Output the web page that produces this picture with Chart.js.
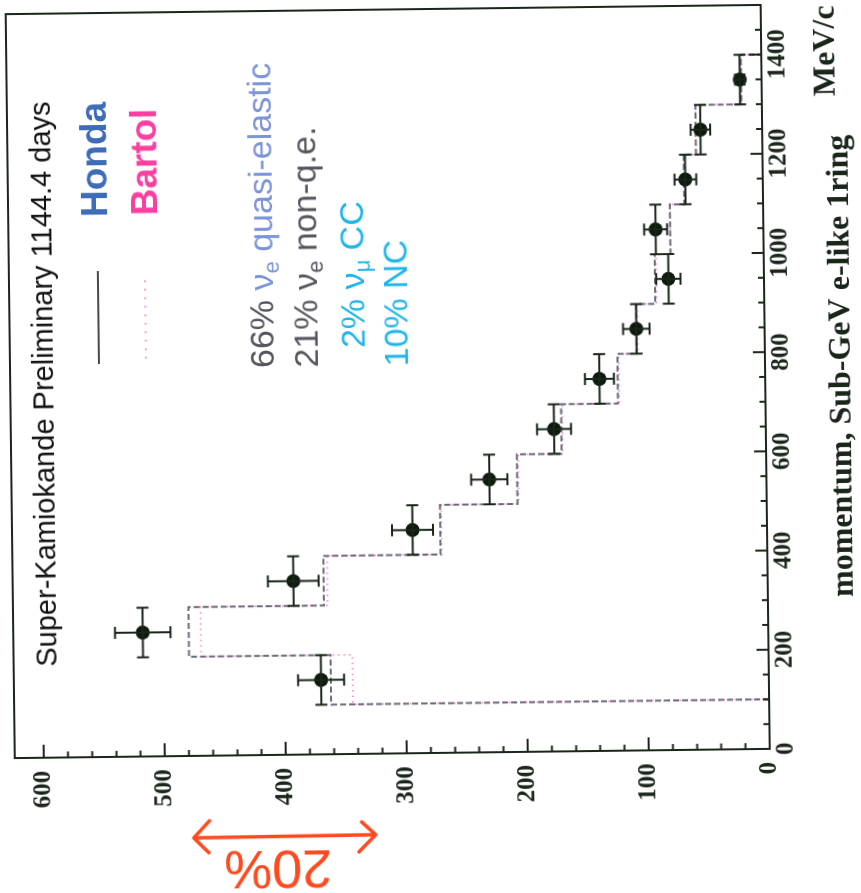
<!DOCTYPE html>
<html>
<head>
<meta charset="utf-8">
<script src="https://cdn.jsdelivr.net/npm/chart.js@4.4.1/dist/chart.umd.min.js"></script>
<style>
    html, body { margin: 0; padding: 0; background: #fff; overflow: hidden; }
    body { width: 861px; height: 893px; position: relative; }
    /* the plot is drawn upright and then turned a quarter turn (plus the scan tilt) */
    #wrap { position: absolute; left: -16px; top: 16px; width: 893px; height: 861px;
            transform: rotate(-90.7deg); transform-origin: 50% 50%; }
</style>
</head>
<body>
<div id="wrap"><canvas id="chart-area" width="893" height="861"></canvas></div>
<script>
    // momentum bins (MeV/c)
    var binEdges = [100, 200, 300, 400, 500, 600, 700, 800, 900, 1000, 1100, 1200, 1300, 1400];
    var binCenters = [150, 250, 350, 450, 550, 650, 750, 850, 950, 1050, 1150, 1250, 1350];
    // Super-K data points and their errors (events)
    var dataEvents = [370, 517, 392, 293, 229, 175, 137, 106, 79, 89, 64, 51, 18];
    var dataErrors = [19, 23, 21, 17, 15, 14, 12, 11, 10, 9.5, 9, 8, 4];
    // Monte Carlo expectations
    var hondaEvents = [362, 479, 367, 270, 206, 169, 122, 106, 90, 77, 65, 55, 17];
    var bartolEvents = [344, 469, 364, 269, 205, 168, 121, 105, 89, 77, 64, 55, 17];
    // labelled ticks
    var momentumLabels = [0, 200, 400, 600, 800, 1000, 1200, 1400];
    var eventLabels = [0, 100, 200, 300, 400, 500, 600];

    var inkColor = '#1a261a';

    function stepData(vals) {
        var pts = [{ x: binEdges[0], y: 0 }];
        for (var i = 0; i < vals.length; i++) {
            pts.push({ x: binEdges[i], y: vals[i] });
        }
        pts.push({ x: binEdges[binEdges.length - 1], y: 0 });
        return pts;
    }

    // frame + inward tick marks
    var framePlugin = {
        id: 'frame',
        afterDraw: function (chart) {
            var ctx = chart.ctx, a = chart.chartArea;
            var xs = chart.scales.x, ys = chart.scales.y;
            ctx.save();
            ctx.strokeStyle = inkColor;
            ctx.lineWidth = 2;
            ctx.strokeRect(a.left, a.top, a.right - a.left, a.bottom - a.top);
            ctx.beginPath();
            xs.ticks.forEach(function (t) {
                if (t.value <= xs.min || t.value >= xs.max || t.value % 50 !== 0) return;
                var px = xs.getPixelForValue(t.value);
                var len = t.value % 200 === 0 ? 12 : 6;
                ctx.moveTo(px, a.bottom);
                ctx.lineTo(px, a.bottom - len);
            });
            ys.ticks.forEach(function (t) {
                if (t.value <= ys.min || t.value >= ys.max || t.value % 20 !== 0) return;
                var py = ys.getPixelForValue(t.value);
                var len = t.value % 100 === 0 ? 13 : 6;
                ctx.moveTo(a.left, py);
                ctx.lineTo(a.left + len, py);
            });
            ctx.stroke();
            ctx.restore();
        }
    };

    // error bars on the data points: bin width along momentum, stat. error along events
    var errorBarPlugin = {
        id: 'errorBars',
        afterDatasetsDraw: function (chart) {
            var ctx = chart.ctx, xs = chart.scales.x, ys = chart.scales.y;
            var cap = 6;
            ctx.save();
            ctx.strokeStyle = inkColor;
            ctx.lineWidth = 2;
            ctx.beginPath();
            for (var i = 0; i < binCenters.length; i++) {
                var half = (binEdges[i + 1] - binEdges[i]) / 2;
                var cx = xs.getPixelForValue(binCenters[i]);
                var cy = ys.getPixelForValue(dataEvents[i]);
                var x0 = xs.getPixelForValue(binCenters[i] - half);
                var x1 = xs.getPixelForValue(binCenters[i] + half);
                var y0 = ys.getPixelForValue(dataEvents[i] - dataErrors[i]);
                var y1 = ys.getPixelForValue(dataEvents[i] + dataErrors[i]);
                ctx.moveTo(x0, cy); ctx.lineTo(x1, cy);
                ctx.moveTo(x0, cy - cap); ctx.lineTo(x0, cy + cap);
                ctx.moveTo(x1, cy - cap); ctx.lineTo(x1, cy + cap);
                ctx.moveTo(cx, y0); ctx.lineTo(cx, y1);
                ctx.moveTo(cx - cap, y0); ctx.lineTo(cx + cap, y0);
                ctx.moveTo(cx - cap, y1); ctx.lineTo(cx + cap, y1);
            }
            ctx.stroke();
            ctx.restore();
        }
    };

    function drawRuns(ctx, x, y, runs) {
        runs.forEach(function (r) {
            ctx.font = r.font;
            ctx.fillStyle = r.color;
            ctx.fillText(r.t, x, y + (r.dy || 0));
            x += ctx.measureText(r.t).width;
        });
    }

    // texts, legend and the hand drawn 20% mark
    var notesPlugin = {
        id: 'notes',
        afterDraw: function (chart) {
            var ctx = chart.ctx;
            var sans = '"Liberation Sans", Arial, sans-serif';
            var serif = '"Liberation Serif", "Times New Roman", serif';
            var big = '34px ' + sans, sub = '22px ' + sans;
            var grey = '#55555e', lilac = '#7d93da', cyan = '#1fb6ea';
            ctx.save();
            ctx.textAlign = 'left';
            ctx.textBaseline = 'alphabetic';

            // axis title
            ctx.fillStyle = inkColor;
            ctx.font = 'bold 32px ' + serif;
            ctx.fillText('momentum, Sub-GeV e-like 1ring', 291, 851);
            ctx.fillText('MeV/c', 792, 839);

            ctx.font = '29px ' + sans;
            ctx.fillStyle = '#111';
            ctx.fillText('Super-Kamiokande Preliminary 1144.4 days', 231, 54);

            // legend
            ctx.lineWidth = 2;
            ctx.strokeStyle = '#4a4a4a';
            ctx.beginPath(); ctx.moveTo(533, 100); ctx.lineTo(626, 100); ctx.stroke();
            ctx.strokeStyle = '#ff80d0';
            ctx.setLineDash([1.5, 7]);
            ctx.beginPath(); ctx.moveTo(538, 147); ctx.lineTo(623, 147); ctx.stroke();
            ctx.setLineDash([]);
            ctx.font = 'bold 37px ' + sans;
            ctx.fillStyle = '#3f6cb8';
            ctx.fillText('Honda', 680, 110);
            ctx.fillStyle = '#fa3fa0';
            ctx.fillText('Bartol', 681, 160);

            // interaction fractions, % signs lined up
            var x0 = 527;
            drawRuns(ctx, x0, 275, [
                { t: '66% ', font: big, color: grey },
                { t: 'ν', font: big, color: lilac },
                { t: 'e', font: sub, color: lilac, dy: 6 },
                { t: ' quasi-elastic', font: big, color: lilac }
            ]);
            drawRuns(ctx, x0, 319, [
                { t: '21% ', font: big, color: grey },
                { t: 'ν', font: big, color: grey },
                { t: 'e', font: sub, color: grey, dy: 6 },
                { t: ' non-q.e.', font: big, color: grey }
            ]);
            ctx.font = big;
            var shift = ctx.measureText('10%').width - ctx.measureText('2%').width;
            drawRuns(ctx, x0 + shift, 366, [
                { t: '2% ', font: big, color: cyan },
                { t: 'ν', font: big, color: cyan },
                { t: 'μ', font: sub, color: cyan, dy: 6 },
                { t: ' CC', font: big, color: cyan }
            ]);
            drawRuns(ctx, x0, 409, [
                { t: '10% NC', font: big, color: cyan }
            ]);

            // red 20% mark, drawn in picture coordinates
            ctx.transform(0, 1, -1, 0, chart.width, 0);
            ctx.strokeStyle = '#ff4a1f';
            ctx.fillStyle = '#ff4a1f';
            ctx.lineWidth = 3.5;
            ctx.lineCap = 'round';
            ctx.lineJoin = 'round';
            ctx.beginPath();
            ctx.moveTo(189, 835); ctx.lineTo(371, 834);
            ctx.moveTo(205, 818); ctx.lineTo(189, 835); ctx.lineTo(204, 850);
            ctx.moveTo(357, 821); ctx.lineTo(371, 834); ctx.lineTo(354, 851);
            ctx.stroke();
            ctx.translate(273, 864);
            ctx.rotate(Math.PI);
            ctx.font = '54px ' + sans;
            ctx.textAlign = 'center';
            ctx.textBaseline = 'middle';
            ctx.fillText('20%', 0, 0);
            ctx.restore();
        }
    };

    var tickFont = { family: 'Liberation Serif', weight: 'bold', size: 25 };

    var ctx = document.getElementById('chart-area').getContext('2d');
    window.skChart = new Chart(ctx, {
        type: 'line',
        data: {
            datasets: [
                {
                    label: 'Data',
                    data: binCenters.map(function (c, i) { return { x: c, y: dataEvents[i] }; }),
                    showLine: false,
                    pointRadius: 7,
                    pointBackgroundColor: '#0e1a0e',
                    pointBorderWidth: 0,
                    order: 0
                },
                {
                    label: 'Honda',
                    data: stepData(hondaEvents),
                    stepped: true,
                    borderColor: '#6b6b78',
                    borderWidth: 2,
                    borderDash: [6, 3],
                    pointRadius: 0,
                    fill: false,
                    order: 1
                },
                {
                    label: 'Bartol',
                    data: stepData(bartolEvents),
                    stepped: true,
                    borderColor: '#ff7fd6',
                    borderWidth: 1.6,
                    borderDash: [1.5, 4],
                    pointRadius: 0,
                    fill: false,
                    order: 2
                }
            ]
        },
        options: {
            responsive: false,
            animation: false,
            layout: { padding: { top: 11, right: 9, left: 0, bottom: 0 } },
            plugins: { legend: { display: false }, tooltip: { enabled: false } },
            scales: {
                x: {
                    type: 'linear',
                    min: 0,
                    max: 1500,
                    grid: { display: false, drawTicks: false },
                    border: { display: false },
                    ticks: {
                        stepSize: 50,
                        autoSkip: false,
                        maxRotation: 0,
                        padding: 2,
                        color: inkColor,
                        font: tickFont,
                        callback: function (v) { return momentumLabels.indexOf(v) >= 0 ? String(v) : ''; }
                    },
                    afterFit: function (s) {
                        s.height = 95;
                        s.paddingLeft = 0;
                        s.paddingRight = 0;
                    }
                },
                y: {
                    type: 'linear',
                    min: 0,
                    max: 624,
                    grid: { display: false, drawTicks: false },
                    border: { display: false },
                    ticks: {
                        stepSize: 20,
                        autoSkip: false,
                        padding: 13,
                        color: inkColor,
                        font: tickFont,
                        callback: function (v) { return eventLabels.indexOf(v) >= 0 ? String(v) : ''; }
                    },
                    afterFit: function (s) {
                        s.width = 140;
                        s.paddingTop = 0;
                        s.paddingBottom = 0;
                    }
                }
            }
        },
        plugins: [framePlugin, errorBarPlugin, notesPlugin]
    });
</script>
</body>
</html>
